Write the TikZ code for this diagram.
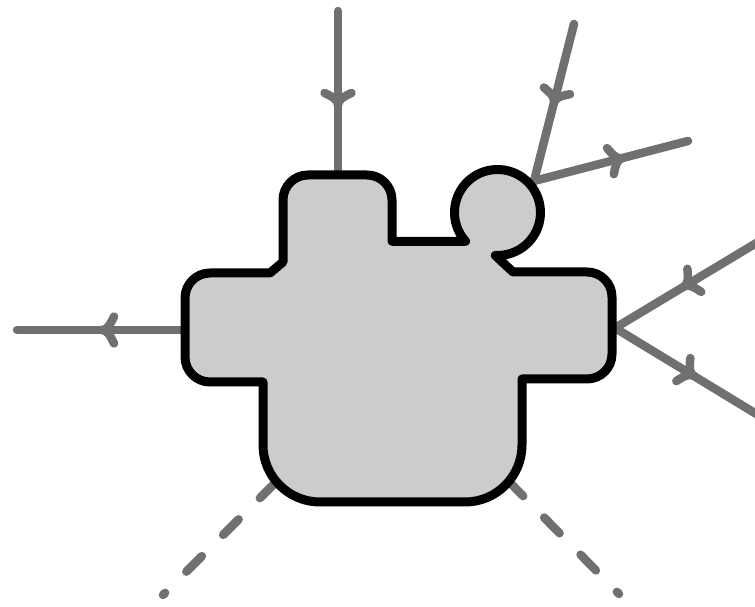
\documentclass[tikz,border=0pt]{standalone}
\usetikzlibrary{decorations.markings}
\definecolor{leggray}{RGB}{112,112,112}
\definecolor{blobfill}{RGB}{204,204,204}
\tikzset{
  leg/.style={color=leggray, line width=8.5pt, line cap=round, line join=round},
  ghostleg/.style={leg, dash pattern=on 22pt off 30pt, dash phase=19pt},
  % curved chevron drawn along the leg, tip at the marked point
  arrowat/.style={postaction={decorate},
    decoration={markings, mark=at position #1 with
      {\draw[leg] (-12pt,13.5pt) .. controls (-8pt,5pt) and (-5pt,0pt) .. (0pt,0pt)
                  .. controls (-5pt,0pt) and (-8pt,-5pt) .. (-12pt,-13.5pt);}}},
  blob/.style={draw=black, fill=blobfill, line width=9pt, line join=round}
}
\begin{document}
\begin{tikzpicture}[x=1pt,y=1pt]
  \clip (0,0) rectangle (755,607);

  % external legs: outer ends and junctions
  \coordinate (t0) at (338,596);
  \coordinate (t1) at (338,407);
  \coordinate (a0) at (574,583);
  \coordinate (j1) at (534,426);
  \coordinate (b0) at (688,466);
  \coordinate (c0) at (780,378.2);
  \coordinate (j2) at (615,279);
  \coordinate (d0) at (780,178.6);
  \coordinate (l1) at (200,277);
  \coordinate (l0) at (17,277);
  \coordinate (p0) at (163,12);
  \coordinate (p1) at (304,153);
  \coordinate (q0) at (619,13);
  \coordinate (q1) at (479,156);

  \draw[leg, arrowat=94pt]  (t0) -- (t1);
  \draw[leg, arrowat=81pt]  (a0) -- (j1);
  \draw[leg, arrowat=91pt]  (j1) -- (b0);
  \draw[leg, arrowat=112pt] (c0) -- (j2);
  \draw[leg, arrowat=92pt]  (j2) -- (d0);
  \draw[leg, arrowat=98pt]  (l1) -- (l0);
  \draw[ghostleg] (p0) -- (p1);
  \draw[ghostleg] (q0) -- (q1);

  % the blob
  \draw[blob]
    (283,345) -- (283,407) arc[start angle=180, end angle=90, radius=25]
    -- (367,432) arc[start angle=90, end angle=0, radius=25]
    -- (392,365.73) -- (465.54,365.73)
    arc[start angle=222, end angle=-93, radius=43]
    -- (513,335) -- (587,335) arc[start angle=90, end angle=0, radius=25]
    -- (612,253) arc[start angle=0, end angle=-90, radius=25]
    -- (522,228) -- (522,162) arc[start angle=0, end angle=-90, radius=57]
    -- (320,105) arc[start angle=270, end angle=180, radius=57]
    -- (263,225) -- (210,225) arc[start angle=270, end angle=180, radius=25]
    -- (185,309) arc[start angle=180, end angle=90, radius=25]
    -- (270,334) -- cycle;
\end{tikzpicture}
\end{document}
